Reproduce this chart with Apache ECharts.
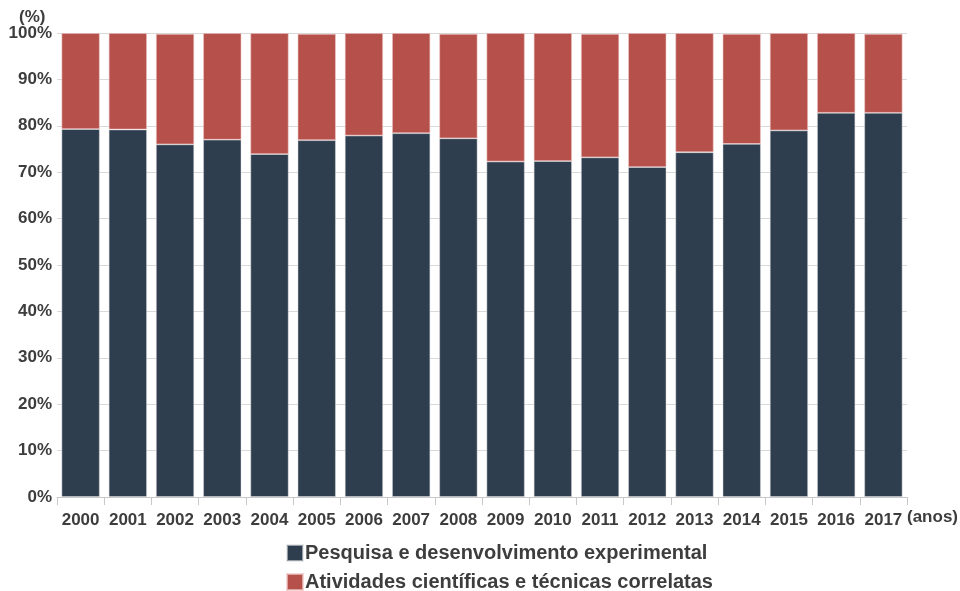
<!DOCTYPE html>
<html>
<head>
<meta charset="utf-8">
<script src="https://cdn.jsdelivr.net/npm/echarts@6/dist/echarts.min.js"></script>
<style>
  html, body { margin: 0; padding: 0; background: #fff; }
  #main { width: 960px; height: 591px; }
</style>
</head>
<body>
<div id="main"></div>
<script>
// anos e participação (%) de cada atividade
let years = ['2000', '2001', '2002', '2003', '2004', '2005', '2006', '2007', '2008',
             '2009', '2010', '2011', '2012', '2013', '2014', '2015', '2016', '2017'];
let pesquisa = [79.3, 79.2, 76.0, 77.0, 73.9, 76.9, 77.9, 78.4, 77.3,
                72.3, 72.4, 73.2, 71.1, 74.3, 76.1, 79.0, 82.8, 82.8];
let atividades = [20.7, 20.8, 23.8, 23.0, 26.1, 22.9, 22.1, 21.6, 22.5,
                  27.7, 27.6, 26.6, 28.9, 25.7, 23.7, 21.0, 17.2, 17.0];
let seriesNames = ['Pesquisa e desenvolvimento experimental',
                   'Atividades científicas e técnicas correlatas'];

let chartDom = document.getElementById('main');
let myChart = echarts.init(chartDom);
let textColor = '#3d3d3d';
let font = 'Liberation Sans, Arial, sans-serif';

// uma legenda por linha
function legendRow(name, top) {
    return {
        orient: 'horizontal',
        left: 281,
        top: top,
        itemWidth: 16,
        itemHeight: 16,
        icon: 'rect',
        data: [name],
        textStyle: {
            fontSize: 20,
            fontWeight: 'bold',
            color: textColor,
            padding: [0, 0, 0, -3]
        }
    };
}

let option = {
    animation: false,
    textStyle: { fontFamily: font },
    grid: {
        left: 57,
        right: 53,
        top: 33,
        bottom: 94,
        containLabel: false,
        outerBoundsMode: 'none'
    },
    legend: [
        legendRow(seriesNames[0], 538),
        legendRow(seriesNames[1], 567)
    ],
    xAxis: {
        type: 'category',
        data: years,
        axisLine: { lineStyle: { color: '#c8c8c8' } },
        axisTick: { show: true, length: 8, lineStyle: { color: '#c8c8c8' } },
        axisLabel: {
            fontSize: 17,
            fontWeight: 'bold',
            color: textColor,
            margin: 15,
            interval: 0
        }
    },
    yAxis: {
        type: 'value',
        min: 0,
        max: 100,
        interval: 10,
        axisLine: { show: false },
        axisTick: { show: false },
        splitLine: { lineStyle: { color: '#d9d9d9' } },
        axisLabel: {
            formatter: '{value}%',
            fontSize: 17,
            fontWeight: 'bold',
            color: textColor,
            margin: 5
        }
    },
    graphic: [
        {
            type: 'text',
            left: 19,
            top: 9,
            style: { text: '(%)', fontSize: 17, fontWeight: 'bold', fill: textColor, fontFamily: font }
        },
        {
            type: 'text',
            left: 907,
            top: 509,
            style: { text: '(anos)', fontSize: 17, fontWeight: 'bold', fill: textColor, fontFamily: font }
        }
    ],
    series: [
        {
            name: seriesNames[0],
            type: 'bar',
            stack: 'total',
            barWidth: '81%',
            data: pesquisa,
            itemStyle: { color: '#2f3e4e', borderColor: 'rgba(220,220,225,0.6)', borderWidth: 0.8 }
        },
        {
            name: seriesNames[1],
            type: 'bar',
            stack: 'total',
            barWidth: '81%',
            data: atividades,
            itemStyle: { color: '#b5514a', borderColor: 'rgba(240,200,200,0.7)', borderWidth: 0.8 }
        }
    ]
};

option && myChart.setOption(option);
</script>
</body>
</html>
